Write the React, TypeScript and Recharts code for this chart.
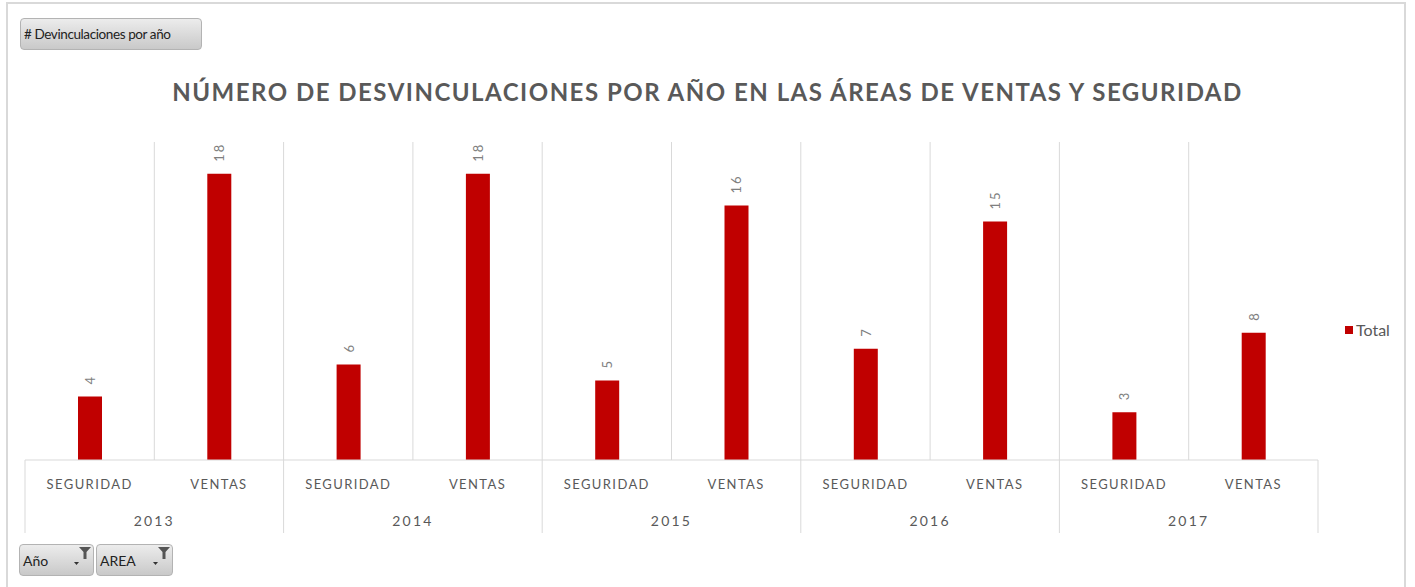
import React from 'react';
import { Bar, BarChart, CartesianGrid, LabelList, Legend, XAxis, YAxis } from 'recharts';

const years = ['2013', '2014', '2015', '2016', '2017'];
const areas = ['SEGURIDAD', 'VENTAS'];
const seguridadTotals = [4, 6, 5, 7, 3];
const ventasTotals = [18, 18, 16, 15, 8];

const data = years.flatMap((year, i) => [
  { key: `${year}-${areas[0]}`, year, area: areas[0], total: seguridadTotals[i] },
  { key: `${year}-${areas[1]}`, year, area: areas[1], total: ventasTotals[i] },
]);

const TEXT = '#595959';
const GRID = '#d9d9d9';
const BAR = '#C00000';
const FONT = "Lato, 'Open Sans', sans-serif";

const AxisTick = (props: any) => {
  const { x, y, payload, index } = props;
  const row = data[index];
  const half = payload.offset || 0;
  const isLastOfYear = index % 2 === 1;
  return (
    <g>
      <text x={x} y={y + 29} textAnchor="middle" fill={TEXT} fontSize={13} letterSpacing={1.4} fontFamily={FONT}>
        {row.area}
      </text>
      {isLastOfYear && (
        <text x={x - half} y={y + 66} textAnchor="middle" fill={TEXT} fontSize={14} letterSpacing={2.2} fontFamily={FONT}>
          {row.year}
        </text>
      )}
      {index === 0 && <line x1={x - half} x2={x - half} y1={y} y2={y + 73} stroke={GRID} />}
      {isLastOfYear && <line x1={x + half} x2={x + half} y1={y} y2={y + 73} stroke={GRID} />}
    </g>
  );
};

const RotatedLabel = (props: any) => {
  const { x, y, width, value } = props;
  const cx = x + width / 2;
  const top = y - 12;
  return (
    <text
      x={cx}
      y={top}
      transform={`rotate(-90 ${cx} ${top})`}
      textAnchor="start"
      dominantBaseline="central"
      fill="#7f7f7f"
      fontSize={13}
      letterSpacing={2}
      fontFamily={FONT}
    >
      {value}
    </text>
  );
};

const LegendContent = () => (
  <div style={{ display: 'flex', alignItems: 'center', fontFamily: FONT, fontSize: 16, color: TEXT }}>
    <span style={{ display: 'inline-block', width: 8, height: 8, background: BAR, marginRight: 3 }} />
    <span>Total</span>
  </div>
);

const buttonStyle: React.CSSProperties = {
  position: 'absolute',
  boxSizing: 'border-box',
  background: 'linear-gradient(#ececec, #c9c9c9)',
  border: '1px solid #b3b3b3',
  borderRadius: 4,
  fontFamily: FONT,
  fontSize: 14,
  color: '#222',
  display: 'flex',
  alignItems: 'center',
  paddingLeft: 3,
};

const FilterIcon = () => (
  <svg width={18} height={22} style={{ position: 'absolute', right: 1, top: 0 }}>
    <path d="M5 2 L17 2 L12.5 7 L12.5 14 L9.5 14 L9.5 7 Z" fill="#555" />
    <path d="M0 17 L5 17 L2.5 20 Z" fill="#333" />
  </svg>
);

export default function App() {
  return (
    <div style={{ position: 'absolute', left: 0, top: 0, width: 1415, height: 587, background: '#fff', overflow: 'hidden' }}>
      <div style={{ position: 'absolute', left: 6, top: 2, width: 1400, height: 620, border: '2px solid #d9d9d9', boxSizing: 'border-box' }} />
      <div style={{ ...buttonStyle, left: 20, top: 18, width: 182, height: 32, fontSize: 13.5, letterSpacing: -0.4 }}>
        # Devinculaciones por año
      </div>
      <div
        style={{
          position: 'absolute',
          left: 0,
          width: 1415,
          top: 77,
          textAlign: 'center',
          fontFamily: FONT,
          fontWeight: 700,
          fontSize: 24,
          letterSpacing: 1.5,
          color: TEXT,
        }}
      >
        NÚMERO DE DESVINCULACIONES POR AÑO EN LAS ÁREAS DE VENTAS Y SEGURIDAD
      </div>
      <div style={{ position: 'absolute', left: 0, top: 0 }}>
        <BarChart width={1415} height={587} data={data} margin={{ top: 142, right: 97, left: 25, bottom: 0 }}>
          <CartesianGrid
            horizontal={false}
            stroke={GRID}
            verticalCoordinatesGenerator={({ offset }: any) =>
              data.slice(0, -1).map((_, i) => offset.left + ((i + 1) * offset.width) / data.length)
            }
          />
          <XAxis
            dataKey="key"
            height={127}
            tickLine={false}
            tickSize={0}
            tickMargin={0}
            axisLine={{ stroke: GRID }}
            interval={0}
            tick={<AxisTick />}
          />
          <YAxis hide domain={[0, 20]} />
          <Legend
            layout="vertical"
            align="center"
            verticalAlign="middle"
            wrapperStyle={{ left: 1345, top: 320, width: 'auto' }}
            content={<LegendContent />}
          />
          <Bar dataKey="total" name="Total" fill={BAR} barSize={24} isAnimationActive={false}>
            <LabelList dataKey="total" content={<RotatedLabel />} />
          </Bar>
        </BarChart>
      </div>
      <div style={{ ...buttonStyle, left: 19, top: 544, width: 75, height: 32 }}>
        Año
        <FilterIcon />
      </div>
      <div style={{ ...buttonStyle, left: 96, top: 544, width: 77, height: 32 }}>
        AREA
        <FilterIcon />
      </div>
    </div>
  );
}
